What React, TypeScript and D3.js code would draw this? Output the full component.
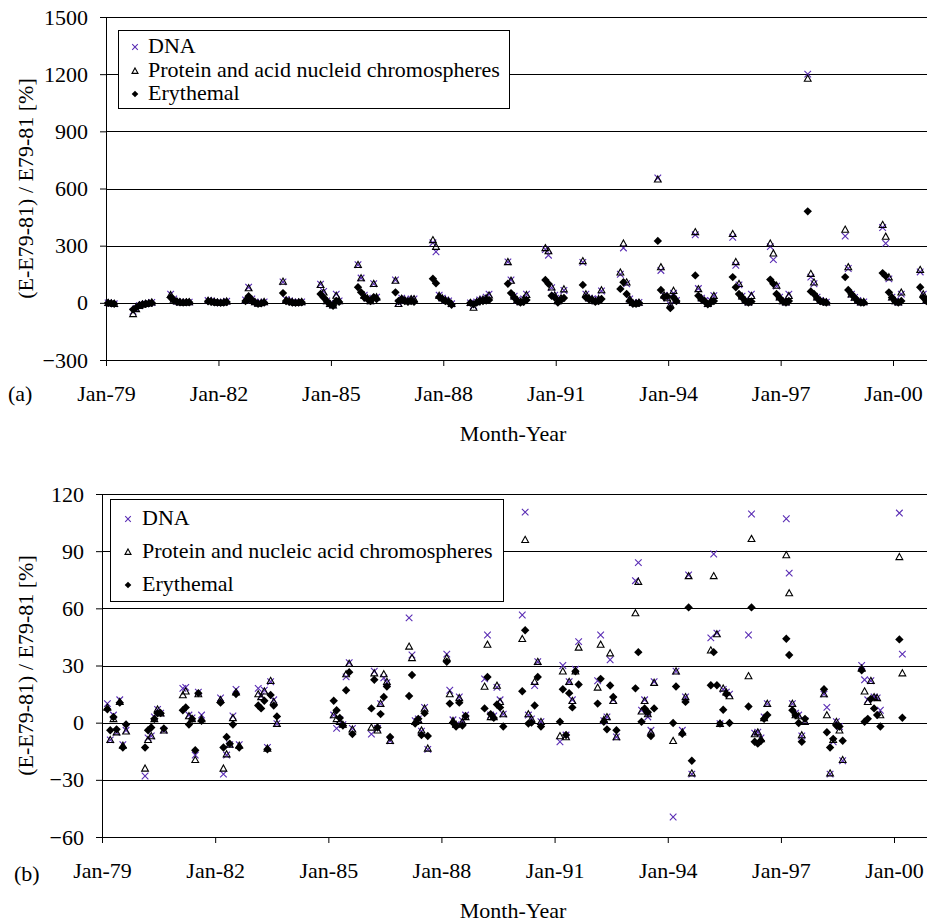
import React, { useEffect, useRef } from 'react';
import * as d3 from 'd3';

// ---- data (a): seasons Sep..Mar, keyed by the year the season starts ----
const seasonMonths = [8, 9, 10, 11, 0, 1, 2]; // Sep, Oct, Nov, Dec, Jan, Feb, Mar
const topSeasons = [1978, 1979, 1980, 1981, 1982, 1983, 1984, 1985, 1986, 1987, 1988, 1989,
    1990, 1991, 1992, 1993, 1994, 1995, 1996, 1997, 1998, 1999, 2000];
const topDna = [
    [null, null, null, null, 0, -3, -5],
    [-45, -30, -15, -8, -5, -3, 2],
    [45, 20, 8, 3, 2, 3, 4],
    [12, 10, 5, 2, 0, 3, 8],
    [15, 82, 20, 5, -3, 0, 5],
    [110, 18, 10, 5, 0, 3, 5],
    [98, 60, 10, -5, -12, 46, 10],
    [200, 130, 40, 25, 10, 100, 30],
    [120, 0, 25, 15, 10, 20, 20],
    [315, 268, 40, 25, 15, 10, -5],
    [0, -15, 5, 15, 20, 30, 46],
    [215, 120, 35, 15, 5, 20, 46],
    [280, 250, 80, 40, 10, 25, 65],
    [212, 46, 25, 20, 10, 20, 62],
    [150, 288, 100, 20, 0, -3, 2],
    [655, 170, 40, 25, -10, 50, 12],
    [357, 75, 25, 12, -5, 10, 38],
    [344, 197, 94, 35, 12, 3, 46],
    [295, 227, 88, 30, 10, 3, 46],
    [1200, 135, 100, 30, 12, 7, 3],
    [350, 180, 45, 28, 12, 3, 5],
    [395, 312, 126, 30, 10, 3, 46],
    [162, 46, 15, null, null, null, null]
];
const topProtein = [
    [null, null, null, null, 0, -2, -5],
    [-58, -32, -15, -8, -5, -2, 3],
    [42, 18, 8, 3, 2, 3, 4],
    [12, 10, 5, 2, 0, 3, 8],
    [15, 78, 18, 5, -3, 0, 5],
    [112, 15, 10, 5, 0, 3, 5],
    [95, 55, 10, -5, -12, 38, 10],
    [200, 130, 38, 25, 10, 100, 30],
    [117, -5, 22, 15, 10, 20, 20],
    [330, 295, 38, 25, 15, 10, -5],
    [0, -25, 5, 15, 18, 25, 40],
    [215, 117, 35, 15, 5, 20, 42],
    [288, 272, 82, 40, 10, 25, 72],
    [220, 46, 25, 20, 10, 20, 67],
    [160, 312, 108, 20, 0, -3, 2],
    [648, 188, 40, 25, -10, 64, 12],
    [372, 73, 25, 12, -5, 10, 37],
    [362, 215, 100, 35, 12, 3, 37],
    [312, 260, 91, 30, 10, 3, 37],
    [1177, 153, 108, 30, 12, 7, 3],
    [385, 188, 45, 28, 12, 3, 5],
    [410, 348, 135, 30, 10, 3, 55],
    [174, 46, 15, null, null, null, null]
];
const topEry = [
    [null, null, null, null, 0, -3, -5],
    [-35, -25, -12, -8, -5, -3, 0],
    [28, 15, 6, 3, 2, 3, 3],
    [8, 6, 3, 2, 0, 2, 4],
    [10, 35, 15, 3, -5, -3, 2],
    [51, 10, 5, 2, 0, 2, 3],
    [46, 28, 10, -7, -15, 10, 5],
    [82, 55, 28, 20, 10, 30, 20],
    [55, 10, 20, 10, 5, 10, 5],
    [126, 103, 30, 20, 10, 5, -10],
    [0, -8, 2, 8, 10, 12, 15],
    [100, 51, 28, 10, 2, 5, 15],
    [120, 100, 37, 28, 2, 15, 25],
    [94, 28, 18, 15, 5, 10, 20],
    [73, 108, 46, 10, -5, -5, 0],
    [325, 67, 30, 35, -28, 28, 10],
    [144, 37, 18, 8, -8, 3, 10],
    [135, 82, 46, 28, 10, 2, 7],
    [122, 100, 46, 25, 8, 2, 10],
    [480, 60, 46, 25, 10, 5, 2],
    [135, 67, 46, 28, 10, 2, 2],
    [156, 140, 55, 28, 8, 2, 10],
    [82, 28, 10, null, null, null, null]
];

// ---- data (b): Feb..Aug of each year ----
const bottomMonths = [1, 2, 3, 4, 5, 6, 7]; // Feb..Aug
const bottomYears = [1979, 1980, 1981, 1982, 1983, 1985, 1986, 1987, 1988, 1989, 1990,
    1991, 1992, 1993, 1994, 1995, 1996, 1997, 1998, 1999, 2000];
const bottomDna = [
    [10, -9, 4, -5, 12, -11.5, -4],
    [-28, -8, -7, 3, 7, 5, -4],
    [18, 18.5, 4, 2.5, -17, 16, 4],
    [13, -27, -17, -11.5, 3.5, 17.5, -11.5],
    [18, 14, 17, -13, 21.5, 12, -0.5],
    [4, -3, 1.5, -1, 24, 31.5, -3],
    [-6, 27, -3, 10, 23.5, 21, -9.5],
    [55, 35.5, 1, 2, -4.5, 8, -14],
    [36, 17, 1.5, -1, 13.5, 1, 4],
    [23, 46, 4, 3.5, 18.5, 12, 4.5],
    [56.5, 110.5, 4, 2, 19.5, 32, 0.5],
    [-10, 30, -6.5, 21.5, 12, 28, 42.5],
    [22, 46, 1, 3, 33, 12, -7.5],
    [74.5, 84, 6.5, 12, 3, -4, 21.5],
    [-49.5, 27, null, -4, 13.5, 77.5, -27],
    [44.5, 88.5, 47, -0.5, 17.5, 16, 15],
    [46, 109.5, -5.5, -5, -8, 3, 10],
    [107, 78.5, 10, 5, 4, -7, 1],
    [15, 8, -27, -10, 0.5, -2, -20],
    [30, 22.5, 12, 22, 13.5, 13, 6.5],
    [110, 36, null, null, null, null, null]
];
const bottomProtein = [
    [8, -9, 2, -5, 11, -12, -4.5],
    [-24, -9, -7, 2, 7, 5, -4],
    [14.5, 16.5, 3.5, 2, -19.5, 15, 2],
    [12, -24, -16.5, -11.5, 2.5, 16, -12],
    [15, 13.5, 16.5, -13.5, 22, 11, -0.5],
    [4, 2, 0.5, -1, 25.5, 31, -3.5],
    [-2.5, 26, -4, 10, 25.5, 21.5, -9.5],
    [40, 34, 0.5, 1.5, -4, 7.5, -13.5],
    [34, 15, 1, -1, 13, 0.5, 3],
    [19, 41, 3, 3, 19.5, 11, 4.5],
    [44, 96, 4.5, 2, 21.5, 32, 0.5],
    [-7, 27, -7.5, 21.5, 11.5, 27, 39.5],
    [18.5, 41, 1.5, 3, 36.5, 11.5, -7.5],
    [57.5, 74, 6, 11.5, 4.5, -5, 21],
    [-9.5, 27, null, -5, 13.5, 77, -26.5],
    [38, 77, 46.5, -0.5, 18, 16, 14],
    [24.5, 96.5, -6, -5, -8.5, 2.5, 10],
    [88, 68, 10, 4, 3.5, -6.5, 0.5],
    [15, 4, -26.5, -9, 0.5, -4, -19.5],
    [28.5, 16.5, 11, 22, 13.5, 13, 4],
    [87, 26, null, null, null, null, null]
];
const bottomEry = [
    [7, -4, 3, -3.5, 10.5, -13, -1],
    [-13, -4, -2.5, 2, 5, 5, -3],
    [6.5, 8, -1, 2, -14.5, 15.5, 1],
    [10.5, -13, -7.5, -11, -1, 15, -13],
    [9, 7.5, 11.5, -14, 14.5, 9, 3.3],
    [11.5, 6.5, 2.5, -1.5, 17, 26.5, -6],
    [7.5, 22.5, -2.5, 4.5, 13.5, 19, -7.5],
    [14, 25, -0.5, 2, -6.5, 5, -7],
    [32, 10, 0, -2, 10.5, -1.5, 3.5],
    [7.5, 24, 4.5, 2.5, 9.5, 8, -2],
    [16.5, 48.5, -0.5, 0, 9, 24, -2],
    [0.5, 17.5, -6.5, 15.5, 8, 27, 20],
    [10, 23, 0.5, -3.5, 19.5, 13.5, -4],
    [18, 37, 0.5, 7.5, 5.5, -7, 7.5],
    [-0.2, 19, null, -5.8, 10.9, 60.5, -20],
    [19.6, 37, 19.6, -0.5, 6.8, 15, -0.2],
    [8.5, 60.5, -10, -11, -9.5, 2, 4],
    [44, 35.5, 6.5, 4, -0.2, -10, 2],
    [17.5, -5, -13, -8.5, -1.5, -2, -9.5],
    [27.5, 0.5, 2, 12.5, 7.5, 4, -2],
    [43.7, 2.6, null, null, null, null, null]
];

const tickYears = [1979, 1982, 1985, 1988, 1991, 1994, 1997, 2000];
const topYTicks = [-300, 0, 300, 600, 900, 1200, 1500];
const bottomYTicks = [-60, -30, 0, 30, 60, 90, 120];
const topLegend = ["DNA", "Protein and acid nucleid chromospheres", "Erythemal"];
const bottomLegend = ["DNA", "Protein and nucleic acid chromospheres", "Erythemal"];

const FONT = "Liberation Serif, Times New Roman, DejaVu Serif, serif";
const FSIZE = 22;
const PURPLE = '#5a2db4';

// flatten season tables into {date, value}
const topPoints = (table) => {
    const out = [];
    table.forEach((row, s) => row.forEach((v, i) => {
        if (v === null) return;
        const yr = topSeasons[s] + (seasonMonths[i] < 6 ? 1 : 0);
        out.push({ date: new Date(yr, seasonMonths[i], 22), value: v });
    }));
    return out;
};
const bottomPoints = (table) => {
    const out = [];
    table.forEach((row, s) => row.forEach((v, i) => {
        if (v === null) return;
        out.push({ date: new Date(bottomYears[s], bottomMonths[i], 22), value: v });
    }));
    return out;
};

const serif = (sel) => sel
    .attr('font-family', FONT)
    .attr('font-size', FSIZE)
    .style('font-family', FONT)
    .style('font-size', FSIZE + 'px')
    .attr('fill', '#000');

const drawPanel = (svg, cfg) => {
    const { left, right, top, bottom, x00, yDomain, yTicks, series, legend, legendBox, letter, letterPos, titleY } = cfg;
    const x = d3.scaleTime()
        .domain([new Date(1979, 0, 1), new Date(2000, 0, 1)])
        .range([left, x00]);
    const y = d3.scaleLinear().domain(yDomain).range([bottom, top]);
    const g = svg.append('g');

    // gridlines
    g.selectAll('line.grid')
        .data(yTicks)
        .join('line')
        .attr('class', 'grid')
        .attr('x1', left).attr('x2', right)
        .attr('y1', d => Math.round(y(d)) + 0.5)
        .attr('y2', d => Math.round(y(d)) + 0.5)
        .attr('stroke', '#000')
        .attr('stroke-width', 1);

    // y axis
    const yAxis = g.append('g')
        .attr('transform', `translate(${Math.round(left)},0)`)
        .call(d3.axisLeft(y).tickValues(yTicks).tickFormat(d3.format('d'))
            .tickSize(6).tickSizeOuter(0).tickPadding(12));
    yAxis.attr('font-family', null).attr('font-size', null);
    yAxis.selectAll('text').call(serif);
    yAxis.selectAll('line,path').attr('stroke', '#000');

    // x axis
    const xAxis = g.append('g')
        .attr('transform', `translate(0,${Math.round(bottom)})`)
        .call(d3.axisBottom(x)
            .tickValues(tickYears.map(t => new Date(t, 0, 1)))
            .tickFormat(d3.timeFormat('%b-%y'))
            .tickSize(6).tickSizeOuter(0).tickPadding(19));
    xAxis.attr('font-family', null).attr('font-size', null);
    xAxis.select('.domain').attr('d', `M${left},0.5H${right}`);
    xAxis.selectAll('text').call(serif);
    xAxis.selectAll('line,path').attr('stroke', '#000');

    // legend box
    g.append('rect')
        .attr('x', legendBox.x + 0.5).attr('y', legendBox.y + 0.5)
        .attr('width', legendBox.w).attr('height', legendBox.h)
        .attr('fill', '#fff').attr('stroke', '#000').attr('stroke-width', 1);

    const cross = (sel, s) => sel.attr('d', `M${-s},${-s}L${s},${s}M${-s},${s}L${s},${-s}`)
        .attr('stroke', PURPLE).attr('stroke-width', 1.1).attr('fill', 'none');
    const tri = (sel, s) => sel.attr('d', `M0,${-s}L${s},${s * 0.8}L${-s},${s * 0.8}Z`)
        .attr('stroke', '#000').attr('stroke-width', 1.1).attr('fill', 'none');
    const diamond = (sel, s) => sel.attr('d', `M0,${-s}L${s},0L0,${s}L${-s},0Z`)
        .attr('fill', '#000');
    const shapes = [cross, tri, diamond];
    const sizes = [3.3, 3.4, 4.2];

    // data points, series order: DNA, protein, erythemal
    series.forEach((pts, k) => {
        g.append('g').selectAll('path')
            .data(pts)
            .join('path')
            .attr('transform', d => `translate(${x(d.date)},${y(d.value)})`)
            .call(sel => shapes[k](sel, sizes[k]));
    });

    // legend entries
    legend.forEach((label, k) => {
        const by = legendBox.rows[k];
        g.append('path')
            .attr('transform', `translate(${legendBox.mx},${by - 6})`)
            .call(sel => shapes[k](sel, [2.8, 3, 3.3][k]));
        g.append('text')
            .attr('x', legendBox.tx).attr('y', by)
            .call(serif)
            .text(label);
    });

    // titles
    g.append('text')
        .attr('transform', `translate(33,${(top + bottom) / 2}) rotate(-90)`)
        .attr('text-anchor', 'middle')
        .call(serif)
        .text('(E-E79-81) / E79-81 [%]');
    g.append('text')
        .attr('x', 513).attr('y', titleY)
        .attr('text-anchor', 'middle')
        .call(serif)
        .text('Month-Year');
    g.append('text')
        .attr('x', letterPos[0]).attr('y', letterPos[1])
        .call(serif)
        .text(letter);
};

const App = () => {
    const ref = useRef(null);

    useEffect(() => {
        const svg = d3.select(ref.current);
        svg.selectAll('*').remove();
        svg.append('rect').attr('width', 927).attr('height', 923).attr('fill', '#fff');

        drawPanel(svg, {
            left: 106, right: 945, top: 17, bottom: 360, x00: 893,
            yDomain: [-300, 1500], yTicks: topYTicks,
            series: [topPoints(topDna), topPoints(topProtein), topPoints(topEry)],
            legend: topLegend,
            legendBox: { x: 118, y: 30, w: 391, h: 78, mx: 135, tx: 148, rows: [53, 77, 100] },
            letter: '(a)', letterPos: [8, 401], titleY: 441
        });
        drawPanel(svg, {
            left: 102, right: 945, top: 494, bottom: 837, x00: 894,
            yDomain: [-60, 120], yTicks: bottomYTicks,
            series: [bottomPoints(bottomDna), bottomPoints(bottomProtein), bottomPoints(bottomEry)],
            legend: bottomLegend,
            legendBox: { x: 110, y: 499, w: 393, h: 102, mx: 128, tx: 142, rows: [525, 558, 591] },
            letter: '(b)', letterPos: [14, 881], titleY: 918
        });
    }, []);

    return (
        <div style={{ position: 'absolute', left: 0, top: 0, width: 927, height: 923, overflow: 'hidden' }}>
            <svg ref={ref} width={927} height={923} style={{ display: 'block' }}></svg>
        </div>
    );
};

export default App;
